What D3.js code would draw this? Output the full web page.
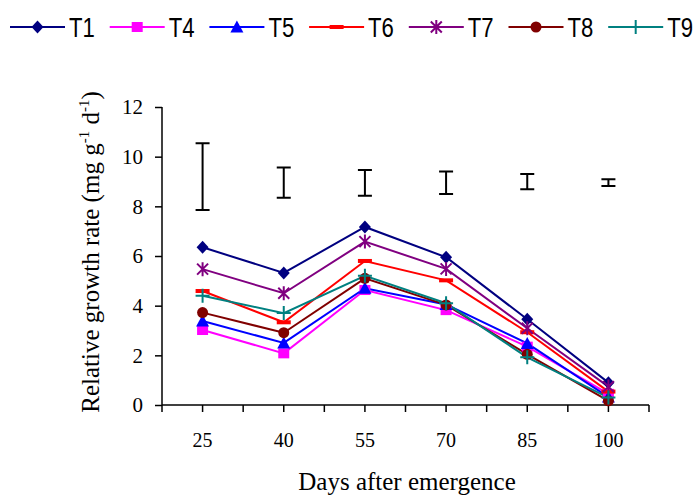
<!DOCTYPE html>
<html>
<head>
<meta charset="utf-8">
<script src="https://cdn.jsdelivr.net/npm/d3@7"></script>
<style>
  body { margin: 0; background: #fff; }
  svg { display: block; }
</style>
</head>
<body>
<div id="chart"></div>
<script>
// Relative growth rate per treatment over days after emergence

const days = ["25", "40", "55", "70", "85", "100"];
const yTicks = [0, 2, 4, 6, 8, 10, 12];

const T1 = [6.35, 5.32, 7.17, 5.95, 3.45, 0.90];
const T4 = [3.02, 2.08, 4.63, 3.82, 2.35, 0.45];
const T5 = [3.38, 2.50, 4.70, 4.05, 2.48, 0.32];
const T6 = [4.59, 3.33, 5.80, 5.02, 2.93, 0.54];
const T7 = [5.47, 4.50, 6.58, 5.48, 3.09, 0.74];
const T8 = [3.72, 2.91, 5.10, 4.03, 2.04, 0.17];
const T9 = [4.40, 3.70, 5.20, 4.10, 1.92, 0.30];

// LSD bars drawn above the lines (low / high end)
const barLow  = [7.85, 8.35, 8.43, 8.50, 8.69, 8.82];
const barHigh = [10.54, 9.56, 9.46, 9.40, 9.30, 9.09];

const series = [
  {name: "T1", values: T1, color: "#000080", marker: "diamond"},
  {name: "T4", values: T4, color: "#ff00ff", marker: "square"},
  {name: "T5", values: T5, color: "#0000ff", marker: "triangle"},
  {name: "T6", values: T6, color: "#ff0000", marker: "dash"},
  {name: "T7", values: T7, color: "#800080", marker: "star"},
  {name: "T8", values: T8, color: "#800000", marker: "circle"},
  {name: "T9", values: T9, color: "#008080", marker: "plus"}
];

const W = 698, H = 501;
const plot = {left: 162, right: 649, top: 107, bottom: 405};

const svg = d3.select("#chart").append("svg")
  .attr("width", W).attr("height", H);

const x = d3.scaleBand().domain(days).range([plot.left, plot.right]).padding(0);
const y = d3.scaleLinear().domain([0, 12]).range([plot.bottom, plot.top]);
const cx = d => x(d) + x.bandwidth() / 2;

// draw one marker of given type centred at (0,0)
function drawMarker(g, type, color) {
  if (type === "diamond") {
    g.append("path").attr("d", "M0,-6.5L6,0L0,6.5L-6,0Z").attr("fill", color);
  } else if (type === "square") {
    g.append("rect").attr("x", -5.5).attr("y", -5).attr("width", 11).attr("height", 10).attr("fill", color);
  } else if (type === "triangle") {
    g.append("path").attr("d", "M0,-6.5L6.5,5.5L-6.5,5.5Z").attr("fill", color);
  } else if (type === "dash") {
    g.append("rect").attr("x", -7).attr("y", -2).attr("width", 14).attr("height", 4).attr("fill", color);
  } else if (type === "circle") {
    g.append("circle").attr("r", 5.5).attr("fill", color);
  } else if (type === "star") {
    g.append("path").attr("d", "M-5.5,-5.5L5.5,5.5M-5.5,5.5L5.5,-5.5M0,-7L0,7")
      .attr("stroke", color).attr("stroke-width", 2).attr("fill", "none");
  } else if (type === "plus") {
    g.append("path").attr("d", "M-7,0L7,0M0,-7L0,7")
      .attr("stroke", color).attr("stroke-width", 2).attr("fill", "none");
  }
}

// y axis
const yAxis = svg.append("g")
  .attr("transform", `translate(${plot.left},0)`)
  .call(d3.axisLeft(y).tickValues(yTicks).tickSize(7).tickPadding(12).tickFormat(d3.format("d")));
yAxis.select(".domain").attr("d", `M0,${plot.top}V${plot.bottom}`);
yAxis.selectAll("line, .domain").attr("stroke", "#000").attr("stroke-width", 1.5);
yAxis.selectAll("text")
  .attr("font-family", "'Liberation Serif', 'Times New Roman', serif")
  .attr("font-size", 21).attr("fill", "#000");

// x axis (labels at category centres, ticks at centres and boundaries)
const xAxis = svg.append("g")
  .attr("transform", `translate(0,${plot.bottom})`)
  .call(d3.axisBottom(x).tickSize(7).tickPadding(21));
xAxis.select(".domain").attr("d", `M${plot.left},0H${plot.right}`);
xAxis.selectAll("line, .domain").attr("stroke", "#000").attr("stroke-width", 1.5);
xAxis.selectAll("text")
  .attr("font-family", "'Liberation Serif', 'Times New Roman', serif")
  .attr("font-size", 20).attr("fill", "#000");
xAxis.selectAll(".bound")
  .data(days.concat(["end"]))
  .enter().append("line")
  .attr("x1", (d, i) => i < days.length ? x(d) : plot.right)
  .attr("x2", (d, i) => i < days.length ? x(d) : plot.right)
  .attr("y1", 0).attr("y2", 7)
  .attr("stroke", "#000").attr("stroke-width", 1.5);

// error bars
const bars = svg.append("g");
days.forEach((d, i) => {
  const xc = cx(d), hw = 7;
  bars.append("path")
    .attr("d", `M${xc - hw},${y(barHigh[i])}H${xc + hw}M${xc},${y(barHigh[i])}V${y(barLow[i])}M${xc - hw},${y(barLow[i])}H${xc + hw}`)
    .attr("stroke", "#000").attr("stroke-width", 2).attr("fill", "none");
});

// lines
const line = d3.line().x((v, i) => cx(days[i])).y(v => y(v));
series.forEach(s => {
  svg.append("path").datum(s.values)
    .attr("d", line).attr("fill", "none")
    .attr("stroke", s.color).attr("stroke-width", 2);
});
series.forEach(s => {
  s.values.forEach((v, i) => {
    const g = svg.append("g").attr("transform", `translate(${cx(days[i])},${y(v)})`);
    drawMarker(g, s.marker, s.color);
  });
});

// legend
const legend = svg.append("g");
series.forEach((s, i) => {
  const lx = 10 + i * 99.7, ly = 27;
  legend.append("line").attr("x1", lx).attr("x2", lx + 55).attr("y1", ly).attr("y2", ly)
    .attr("stroke", s.color).attr("stroke-width", 2);
  const g = legend.append("g").attr("transform", `translate(${lx + 27.5},${ly})`);
  drawMarker(g, s.marker, s.color);
  legend.append("text")
    .attr("transform", `translate(${lx + 59},${ly + 9.5}) scale(0.82,1)`)
    .attr("font-family", "'Liberation Sans', Arial, sans-serif")
    .attr("font-size", 27).attr("fill", "#000")
    .text(s.name);
});

// axis titles
svg.append("text")
  .attr("x", 407).attr("y", 490)
  .attr("text-anchor", "middle")
  .attr("font-family", "'Liberation Serif', 'Times New Roman', serif")
  .attr("font-size", 25).attr("fill", "#000")
  .text("Days after emergence");

const yt = svg.append("text")
  .attr("transform", "translate(99,252) rotate(-90)")
  .attr("text-anchor", "middle")
  .attr("font-family", "'Liberation Serif', 'Times New Roman', serif")
  .attr("font-size", 25).attr("fill", "#000");
yt.append("tspan").text("Relative growth rate (mg g");
yt.append("tspan").attr("font-size", 15).attr("dy", -10).text("-1");
yt.append("tspan").attr("dy", 10).text(" d");
yt.append("tspan").attr("font-size", 15).attr("dy", -10).text("-1");
yt.append("tspan").attr("dy", 10).text(")");
</script>
</body>
</html>
